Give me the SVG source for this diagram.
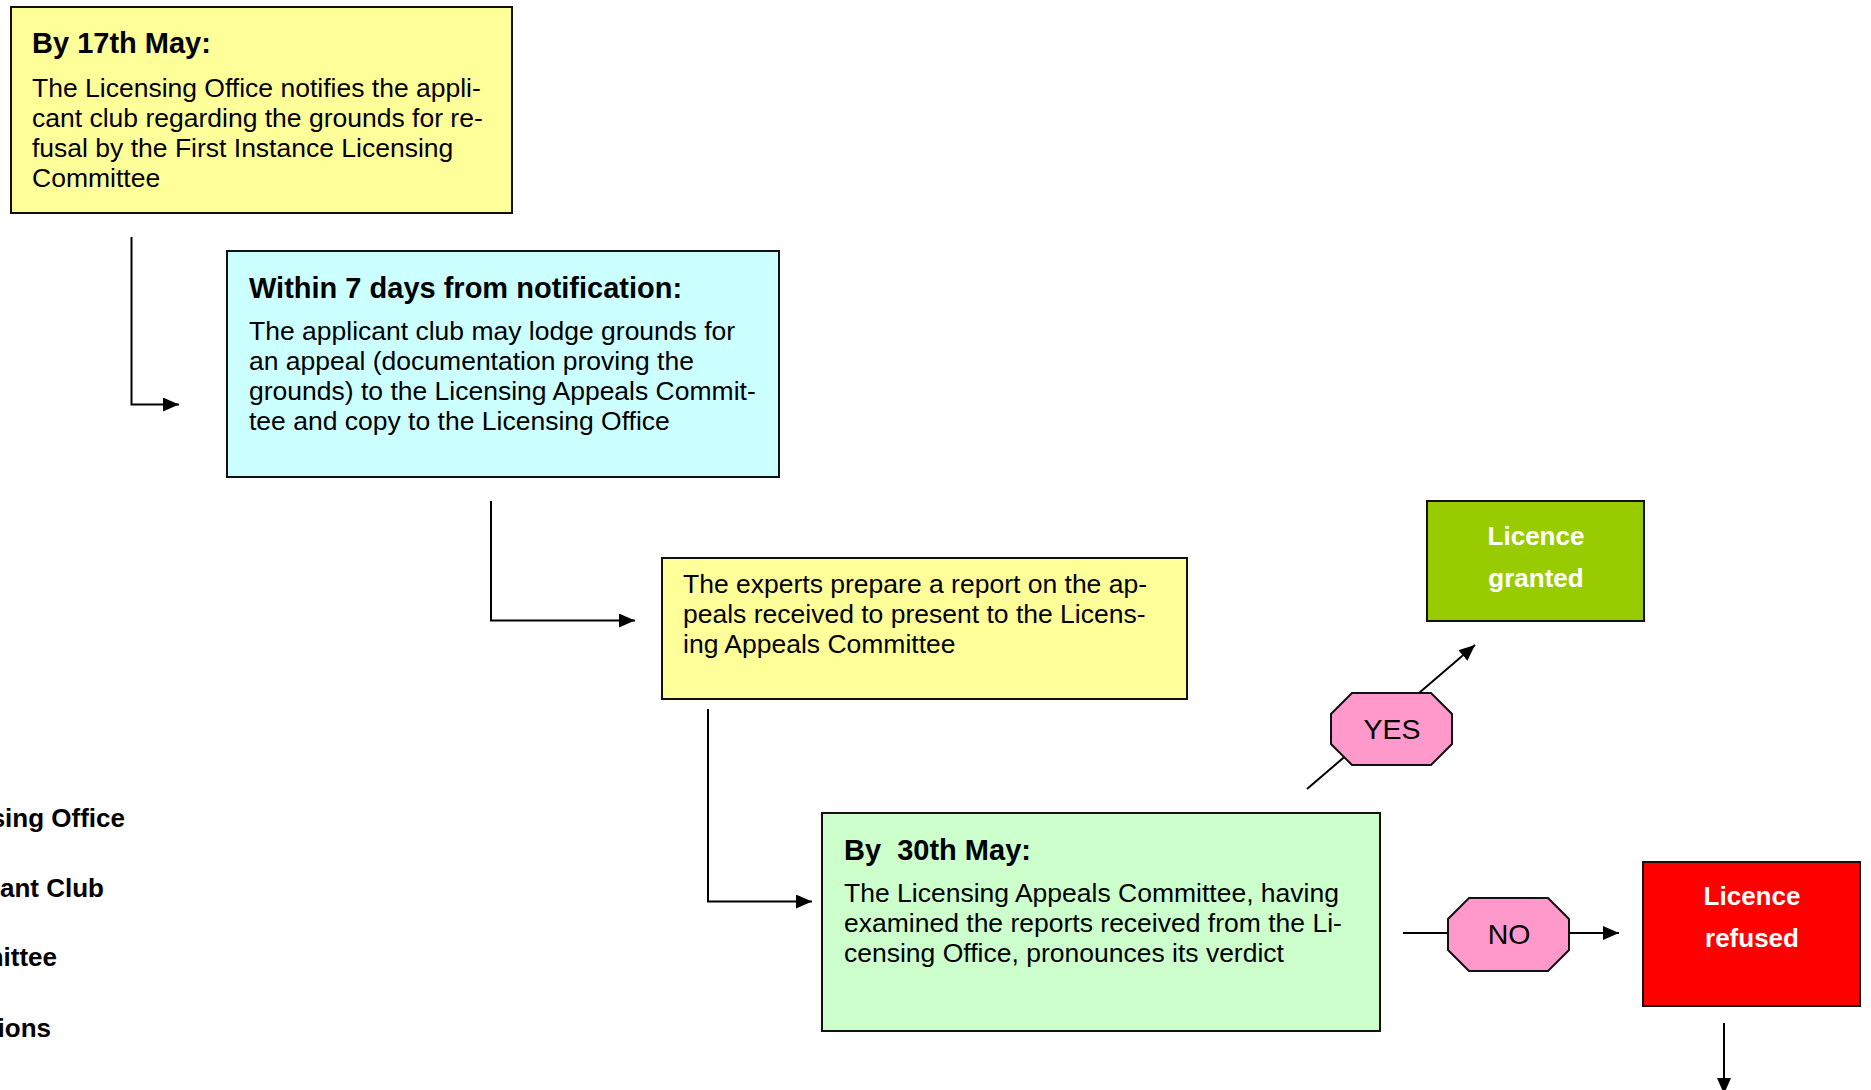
<svg xmlns="http://www.w3.org/2000/svg" width="1871" height="1090" viewBox="0 0 1871 1090">
<style>
  .box { stroke: #111; stroke-width: 2; }
  .oct { fill: #FF99CC; stroke: #111; stroke-width: 2; }
  .title { font-family: "Liberation Sans", Arial, sans-serif; font-size: 29px; font-weight: bold; fill: #000; }
  .body { font-family: "Liberation Sans", Arial, sans-serif; font-size: 26.5px; fill: #000; }
  .lab { font-family: "Liberation Sans", Arial, sans-serif; font-size: 28.5px; fill: #000; text-anchor: middle; }
  .res { font-family: "Liberation Sans", Arial, sans-serif; font-size: 26px; font-weight: bold; fill: #fff; text-anchor: middle; }
  .side { font-family: "Liberation Sans", Arial, sans-serif; font-size: 26px; font-weight: bold; fill: #000; text-anchor: end; }
  .conn { fill: none; stroke: #000; stroke-width: 2; }
</style>
<defs>
  <marker id="arr" markerUnits="userSpaceOnUse" markerWidth="16" markerHeight="14" refX="16" refY="7" orient="auto">
    <path d="M0,0 L16,7 L0,14 Z" fill="#000"/>
  </marker>
</defs>
<rect x="0" y="0" width="1871" height="1090" fill="#fff"/>

<g id="connectors">
  <path class="conn" d="M131.5,237 V404.5 H179" marker-end="url(#arr)"/>
  <path class="conn" d="M491,501 V620.5 H635" marker-end="url(#arr)"/>
  <path class="conn" d="M708,709 V901.5 H812" marker-end="url(#arr)"/>
  <path class="conn" d="M1307,789 L1475,645" marker-end="url(#arr)"/>
  <path class="conn" d="M1403,933 H1619" marker-end="url(#arr)"/>
  <path class="conn" d="M1724,1023 V1094" marker-end="url(#arr)"/>
</g>

<g id="node-17may">
  <rect class="box" x="11" y="7" width="501" height="206" fill="#FFFF99"/>
  <text class="title" x="32" y="53">By 17th May:</text>
  <text class="body" x="32" y="97">The Licensing Office notifies the appli-</text>
  <text class="body" x="32" y="127">cant club regarding the grounds for re-</text>
  <text class="body" x="32" y="157">fusal by the First Instance Licensing</text>
  <text class="body" x="32" y="187">Committee</text>
</g>

<g id="node-7days">
  <rect class="box" x="227" y="251" width="552" height="226" fill="#CCFFFF"/>
  <text class="title" x="249" y="298">Within 7 days from notification:</text>
  <text class="body" x="249" y="340">The applicant club may lodge grounds for</text>
  <text class="body" x="249" y="370">an appeal (documentation proving the</text>
  <text class="body" x="249" y="400">grounds) to the Licensing Appeals Commit-</text>
  <text class="body" x="249" y="430">tee and copy to the Licensing Office</text>
</g>

<g id="node-experts">
  <rect class="box" x="662" y="558" width="525" height="141" fill="#FFFF99"/>
  <text class="body" x="683" y="593">The experts prepare a report on the ap-</text>
  <text class="body" x="683" y="623">peals received to present to the Licens-</text>
  <text class="body" x="683" y="653">ing Appeals Committee</text>
</g>

<g id="node-30may">
  <rect class="box" x="822" y="813" width="558" height="218" fill="#CCFFCC"/>
  <text class="title" x="844" y="860" xml:space="preserve">By  30th May:</text>
  <text class="body" x="844" y="902">The Licensing Appeals Committee, having</text>
  <text class="body" x="844" y="932">examined the reports received from the Li-</text>
  <text class="body" x="844" y="962">censing Office, pronounces its verdict</text>
</g>

<g id="node-yes">
  <polygon class="oct" points="1352,693 1431,693 1452,714 1452,744 1431,765 1352,765 1331,744 1331,714"/>
  <text class="lab" x="1392" y="739">YES</text>
</g>

<g id="node-no">
  <polygon class="oct" points="1469,898 1548,898 1569,919 1569,950 1548,971 1469,971 1448,950 1448,919"/>
  <text class="lab" x="1509" y="944">NO</text>
</g>

<g id="node-granted">
  <rect class="box" x="1427" y="501" width="217" height="120" fill="#99CC00"/>
  <text class="res" x="1536" y="545">Licence</text>
  <text class="res" x="1536" y="587">granted</text>
</g>

<g id="node-refused">
  <rect class="box" x="1643" y="862" width="217" height="144" fill="#FF0000"/>
  <text class="res" x="1752" y="905">Licence</text>
  <text class="res" x="1752" y="947">refused</text>
</g>

<g id="side-labels">
  <text class="side" x="125" y="827">sing Office</text>
  <text class="side" x="104" y="897">ant Club</text>
  <text class="side" x="57" y="966">mittee</text>
  <text class="side" x="51" y="1037">ions</text>
</g>
</svg>
